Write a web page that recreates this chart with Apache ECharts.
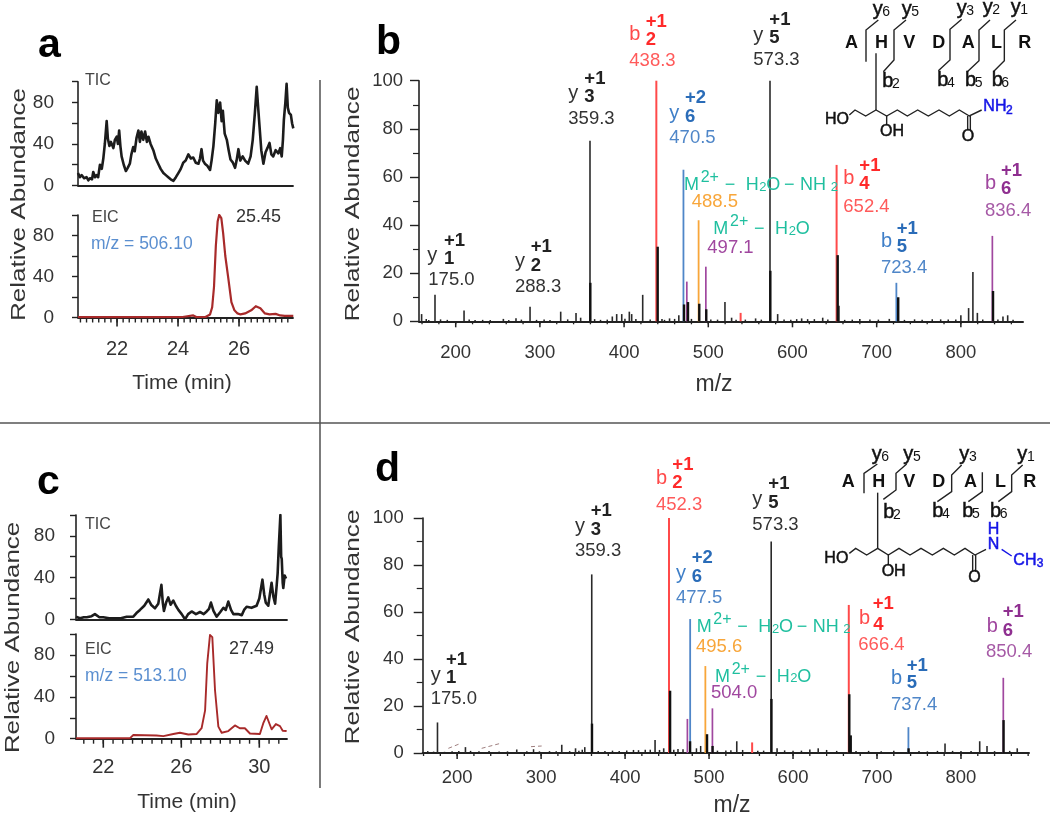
<!DOCTYPE html>
<html><head><meta charset="utf-8">
<script src="https://cdn.jsdelivr.net/npm/echarts@6/dist/echarts.min.js"></script>
<style>html,body{margin:0;padding:0;background:#fff}#c{width:1050px;height:816px}</style></head>
<body><div id="c"></div>
<script>
// ---------- DATA ----------
const aTic=[[20.72,12],[20.78,8],[20.84,10],[20.92,7],[21,8],[21.06,5],[21.11,7],[21.18,6],[21.22,13],[21.28,8],[21.33,10],[21.38,8],[21.44,20],[21.5,16],[21.55,26],[21.6,40],[21.66,62],[21.7,45],[21.75,38],[21.8,42],[21.88,36],[21.93,44],[21.99,47],[22.03,40],[22.07,53],[22.11,38],[22.15,28],[22.22,20],[22.29,14],[22.35,17],[22.42,21],[22.47,30],[22.53,37],[22.58,33],[22.64,46],[22.7,53],[22.75,42],[22.8,52],[22.86,44],[22.92,52],[22.98,42],[23.03,47],[23.1,40],[23.19,34],[23.27,26],[23.35,21],[23.43,16],[23.52,12],[23.6,10],[23.68,8],[23.76,6],[23.85,4.5],[23.93,8],[24.01,12],[24.09,16],[24.17,22],[24.25,24],[24.34,30],[24.42,26],[24.5,27],[24.58,22],[24.67,21],[24.72,26],[24.77,35],[24.82,24],[24.88,21],[24.96,19],[25.05,15],[25.1,24],[25.16,38],[25.22,60],[25.27,82],[25.32,70],[25.38,80],[25.43,62],[25.47,72],[25.53,50],[25.6,44],[25.66,34],[25.72,25],[25.8,22],[25.87,17],[25.92,24],[25.98,35],[26.04,24],[26.12,28],[26.2,24],[26.3,21],[26.38,28],[26.45,44],[26.52,70],[26.58,95],[26.63,74],[26.67,58],[26.73,34],[26.8,21],[26.87,32],[26.93,36],[27,41],[27.06,30],[27.12,28],[27.2,34],[27.29,31],[27.35,36],[27.4,28],[27.44,44],[27.47,63],[27.52,80],[27.56,98],[27.6,75],[27.64,70],[27.7,68],[27.74,60],[27.78,55]];
const aEic=[[20.72,0.3],[22,0.3],[23,0.3],[24.15,0.5],[24.2,2],[24.5,2],[24.6,0.5],[24.9,0.5],[25.05,3],[25.12,10],[25.18,30],[25.24,70],[25.3,94],[25.35,100],[25.42,97],[25.48,82],[25.55,60],[25.65,38],[25.75,15],[25.85,7],[25.95,4],[26.05,3],[26.2,4],[26.4,7],[26.55,11],[26.7,9],[26.85,4],[27,3],[27.2,3.5],[27.35,2],[27.5,1.5],[27.78,1.5]];
const cTic=[[20.6,2.5],[20.8,1],[21,2],[21.15,2],[21.4,3],[21.57,5],[21.8,2],[22,2],[22.3,1],[22.51,1],[22.9,1],[23.2,2.5],[23.54,2.5],[23.7,6],[23.88,9],[24.1,13],[24.31,19],[24.45,14],[24.65,10.5],[24.75,12],[24.82,15],[24.9,24],[24.98,33],[25.05,16],[25.11,8],[25.22,16],[25.33,21],[25.45,14],[25.59,18],[25.72,13],[25.85,9],[26.02,5],[26.19,0],[26.35,5],[26.53,7.5],[26.75,5],[26.96,7],[27.15,5],[27.3,7.5],[27.42,10],[27.52,16],[27.65,8],[27.81,2.5],[28,7],[28.16,11],[28.28,9],[28.41,17],[28.55,9],[28.67,5],[28.9,5],[29.1,4],[29.22,9],[29.35,12],[29.6,11],[29.86,13],[30,20],[30.16,38],[30.25,24],[30.33,16],[30.46,13],[30.55,25],[30.63,35],[30.72,22],[30.81,15],[30.88,30],[30.94,44],[31,70],[31.08,100],[31.12,60],[31.15,58],[31.2,35],[31.23,30],[31.3,42],[31.37,39]];
const cEic=[[20.6,0.5],[22,0.5],[23.37,0.5],[23.54,3.5],[24.73,3],[25.08,2.5],[25.59,4.5],[25.93,5.7],[26.36,4],[26.79,4.5],[27.04,10],[27.22,27],[27.33,72],[27.47,99],[27.59,97],[27.73,46],[27.9,11.5],[28.07,5.7],[28.41,7.3],[28.75,12.7],[29,10],[29.26,10],[29.52,5],[30.03,4.5],[30.2,14.6],[30.37,21.7],[30.63,9],[30.85,14],[31.06,12],[31.2,7.6],[31.4,7.3]];

const bThin=[[159.5,3],[175.4,11],[209.9,4.5],[256.6,1],[271.6,1.3],[288.3,6],[324.7,4],[342.9,3.5],[348.4,1.5],[359.5,75],[386,2],[391.2,3],[397.2,3],[406.2,4],[409,3],[422.1,11],[445,1],[454,1.2],[465,2.5],[519.8,8],[527.7,1.5],[556.2,1.2],[573.3,100],[582.4,3],[610.9,1.2],[635.9,1.5],[655.2,6.5],[680,1],[715,1],[800,2.5],[809.2,5.5],[814.3,20.5],[819.6,3.5],[850,2],[855.6,2.5]];
const bThick=[[359.9,16],[439.9,31],[471.2,7],[475.9,8],[489.3,7.3],[497.6,5],[573.7,21],[653.7,27.5],[725.6,10],[838.2,12.6]];
const bRed=[[438.3,100],[538.4,3.5],[652.4,65]];
const bBlue=[[470.5,63],[723.4,16]];
const bOrange=[[488.5,42]];
const bPurple=[[474.5,16.5],[497.1,22.7],[837.4,35.5]];
const bNoise=[[165,1],[168,.5],[182,.8],[190,.6],[216,.7],[223,.5],[232,.6],[241,.5],[263,.5],[278,.7],[296,.6],[305,.8],[312,.5],[333,.8],[365,.9],[372,.6],[380,.7],[401,1.1],[414,1],[431,.8],[448,.6],[460,1],[480,1],[503,.8],[511,.7],[533,.6],[544,.7],[563,.7],[590,.8],[598,.6],[605,.9],[618,.9],[626,.9],[642,.7],[662,.6],[671,.7],[692,.8],[702,.7],[733,.6],[745,.8],[754,.6],[766,.9],[776,.8],[785,.7],[794,.8],[826,.7],[844,.7],[862,.6]];

const dThin=[[176.6,13],[209.9,2.5],[271,1.5],[324.6,3.5],[341,2],[352,2.5],[360.3,76],[435.7,5.5],[446,2],[533,5],[574,90],[581,2],[781,4],[822.3,5],[831,3],[867,2],[630,2],[620,1.5]];
const dThick=[[360.6,12.5],[453.6,26.5],[477.4,5],[497.6,8],[504.2,3],[574.3,23],[667,25],[668.7,7.5],[737.6,2],[850.7,14]];
const dRed=[[452.3,100],[551.3,4.5],[666.4,63]];
const dBlue=[[477.5,57],[737.4,11]];
const dOrange=[[495.6,37]];
const dPurple=[[474.2,14.5],[504,19],[850.4,32]];
const dNoise=[[165,.8],[172,.6],[185,.5],[194,.7],[202,.8],[216,.9],[226,.7],[238,.8],[250,.6],[260,.7],[283,.7],[291,1.6],[298,.7],[310,.8],[318,.7],[334,.8],[345,1],[349,1.4],[368,.9],[376,.8],[385,1],[393,.9],[402,1.1],[410,1.3],[416,1.2],[424,1.4],[430,1.4],[441,1.3],[458,1.4],[463,1.7],[469,1.6],[485,2],[490,3],[510,1],[520,1.1],[526,1.2],[540,1.3],[558,1],[565,1],[590,1.1],[600,1],[610,1],[640,1.3],[652,.9],[675,.8],[690,.9],[705,.7],[720,1],[750,.8],[760,.7],[772,.9],[790,.9],[800,.8],[812,.8],[840,.8],[858,.9]];

const aTimeTicks=[22,24,26], cTimeTicks=[22,26,30], mzTicks=[200,300,400,500,600,700,800];
const ticY=[0,40,80], spectrumY=[0,20,40,60,80,100];

// ---------- LAYOUT ----------
const FF='"Liberation Sans",Arial,sans-serif';
const ink='#222';
const grids=[
 {left:78,top:81.7,width:215,height:103.8},
 {left:78,top:215,width:215,height:102.5},
 {left:76,top:515,width:211,height:104.3},
 {left:76,top:634,width:211,height:104.7},
 {left:419,top:80.7,width:604,height:240.6},
 {left:422.7,top:518,width:606.3,height:235}
];
const xr=[[20.72,27.77],[20.72,27.77],[20.6,31.42],[20.6,31.42],[156.4,873.8],[159,881]];
function steps(a,b,s){const o=[];for(let v=Math.ceil(a/s-1e-9)*s;v<=b+1e-9;v+=s)o.push([+v.toFixed(4)]);return o;}
const xAxis=[],yAxis=[];
function addX(g,labels,margin,fs,w){
 xAxis.push({type:'value',gridIndex:g,min:xr[g][0],max:xr[g][1],splitLine:{show:false},
  axisLine:{show:true,onZero:false,lineStyle:{color:ink,width:w||1.8}},
  axisTick:{show:false},
  axisLabel:labels?{show:true,customValues:labels,margin:margin,fontSize:fs,fontFamily:FF,color:'#333',formatter:v=>String(v)}:{show:false}});
 return xAxis.length-1;
}
function addY(g,labels,margin,fs,minor){
 yAxis.push({type:'value',gridIndex:g,min:0,max:100,interval:20,splitLine:{show:false},
  axisLine:{show:true,onZero:false,lineStyle:{color:ink,width:1.6}},
  axisTick:{show:true,length:minor?9:6,lineStyle:{color:ink,width:1.4}},
  minorTick:minor?{show:true,splitNumber:2,length:6,lineStyle:{color:ink,width:1.2}}:{show:false},
  axisLabel:{show:true,customValues:labels,margin:margin,fontSize:fs,fontFamily:FF,color:'#333'}});
 return yAxis.length-1;
}
const series=[];
function line(x,y,data,color,w){series.push({type:'line',xAxisIndex:x,yAxisIndex:y,data:data,showSymbol:false,symbol:'none',silent:true,animation:false,lineStyle:{color:color,width:w,join:'round'},z:3});}
function stick(x,y,data,color,w,z){series.push({type:'custom',xAxisIndex:x,yAxisIndex:y,data:data,silent:true,animation:false,z:z,encode:{x:0,y:1},
 renderItem:(p,api)=>{const a=api.coord([api.value(0),0]),b=api.coord([api.value(0),api.value(1)]);
  return {type:'line',shape:{x1:a[0],y1:a[1],x2:b[0],y2:b[1]},style:{stroke:color,lineWidth:w}};}});}
function xticks(x,y,vals,len,w){series.push({type:'custom',xAxisIndex:x,yAxisIndex:y,data:vals,silent:true,animation:false,clip:false,z:2,encode:{x:0},
 renderItem:(p,api)=>{const a=api.coord([api.value(0),0]);
  return {type:'line',shape:{x1:a[0],y1:a[1],x2:a[0],y2:a[1]+len},style:{stroke:ink,lineWidth:w}};}});}

let x0=addX(0,null);let y0=addY(0,ticY,24,19,false);line(x0,y0,aTic,'#1c1c1c',2.6);
let x1=addX(1,aTimeTicks,22,20);let y1=addY(1,ticY,24,19,false);line(x1,y1,aEic,'#a82a2a',2.2);
xticks(x1,y1,steps(xr[1][0],xr[1][1],0.2),5,1.4);xticks(x1,y1,aTimeTicks.map(v=>[v]),9,1.6);
let x2=addX(2,null);let y2=addY(2,ticY,21,19,false);line(x2,y2,cTic,'#1c1c1c',2.6);
let x3=addX(3,cTimeTicks,19,20);let y3=addY(3,ticY,21,19,false);line(x3,y3,cEic,'#a82a2a',1.9);
xticks(x3,y3,steps(xr[3][0],xr[3][1],0.5),5,1.4);xticks(x3,y3,cTimeTicks.map(v=>[v]),9,1.6);

const RED='#ff4a4a',BLUE='#4f86c8',ORG='#f8a63a',PUR='#a0479f';
let x4=addX(4,mzTicks,22,18.5,2);let y4=addY(4,spectrumY,16,18.5,true);
xticks(x4,y4,steps(xr[4][0],xr[4][1],20),3,1.3);xticks(x4,y4,mzTicks.map(v=>[v]),6,1.5);
stick(x4,y4,bRed,RED,2,4);stick(x4,y4,bBlue,BLUE,1.8,4);stick(x4,y4,bOrange,ORG,1.8,4);stick(x4,y4,bPurple,PUR,1.7,4);
stick(x4,y4,bThin,'#2a2a2a',1.6,5);stick(x4,y4,bThick,'#111',2.4,6);stick(x4,y4,bNoise,'#222',1.5,5);
let x5=addX(5,mzTicks,15,18.5,2);let y5=addY(5,spectrumY,19,18.5,true);
xticks(x5,y5,steps(xr[5][0],xr[5][1],20),3,1.3);xticks(x5,y5,mzTicks.map(v=>[v]),6,1.5);
stick(x5,y5,dRed,RED,2,4);stick(x5,y5,dBlue,BLUE,1.8,4);stick(x5,y5,dOrange,ORG,1.8,4);stick(x5,y5,dPurple,PUR,1.7,4);
stick(x5,y5,dThin,'#2a2a2a',1.6,5);stick(x5,y5,dThick,'#111',2.4,6);stick(x5,y5,dNoise,'#222',1.5,5);

// ---------- ANNOTATIONS ----------
const G=[];
function T(x,y,text,size,color,o){o=o||{};G.push({type:'text',x:x,y:y,silent:true,z:20,rotation:o.rot||0,scaleX:o.sx||1,scaleY:o.sy||1,
 style:Object.assign({text:text,fill:color||'#333',font:(o.bold?'bold ':'')+size+'px '+FF,textAlign:o.align||'left',textVerticalAlign:'middle'},o.med?{stroke:color||'#333',lineWidth:0.5}:{})});}
function P(pts,color,w,o){G.push({type:'polyline',silent:true,z:19,shape:{points:pts},style:{stroke:color||'#222',lineWidth:w||1.2,fill:null,lineDash:(o&&o.dash)||null}});}

G.push({type:'line',silent:true,z:1,shape:{x1:320,y1:80,x2:320,y2:788},style:{stroke:'#444',lineWidth:1.4}});
G.push({type:'line',silent:true,z:1,shape:{x1:0,y1:423,x2:1050,y2:423},style:{stroke:'#555',lineWidth:1.4}});

T(38,46,'a',41,'#000',{bold:true});T(376,43,'b',41,'#000',{bold:true});T(37,483,'c',41,'#000',{bold:true});T(375,470,'d',41,'#000',{bold:true});

const VT=Math.PI/2;
T(19,204.5,'Relative Abundance',21,'#333',{rot:VT,align:'center',sx:1.24});
T(13,637.5,'Relative Abundance',21,'#333',{rot:VT,align:'center',sx:1.23});
T(353,204,'Relative Abundance',21,'#333',{rot:VT,align:'center',sx:1.25});
T(353,627,'Relative Abundance',21,'#333',{rot:VT,align:'center',sx:1.25});
T(182,383,'Time (min)',21,'#333',{align:'center'});T(187,802,'Time (min)',21,'#333',{align:'center'});
T(714,385,'m/z',23,'#333',{align:'center'});T(732,806,'m/z',23,'#333',{align:'center'});

const MZC='#5b8fd0';
T(85,81,'TIC',16,'#444');T(92,218,'EIC',16,'#444');T(91,244,'m/z = 506.10',17.5,MZC);T(236,217,'25.45',18,'#333');
T(85,525,'TIC',16,'#444');T(85,650,'EIC',16,'#444');T(85,676,'m/z = 513.10',17.5,MZC);T(229,649,'27.49',18,'#333');

const zb=(zx,zy)=>[340+zx/3,zy/3], zB=(zx,zy)=>[690+zx/3,zy/3], zd=(zx,zy)=>[340+zx/3,440+zy/3], zD=(zx,zy)=>[690+zx/3,440+zy/3];
function ion(f,letter,lp,charge,cp,num,np,val,vp,c1,c2,c3){
 let a=f(...lp);T(a[0],a[1],letter,20,c1);
 a=f(...cp);T(a[0],a[1],charge,18.5,c2,{bold:true});
 a=f(...np);T(a[0],a[1],num,18.5,c2,{bold:true});
 a=f(...vp);T(a[0],a[1],val,18.5,c3);
}
const BK=['#333','#222','#333'],RD=['#ff4a4a','#ff2a2a','#ff5a5a'],BL=['#3f7fc8','#2a6cb8','#4f86c8'],PU=['#a0479f','#8f2f90','#a65aa6'];
const io=(f,l,lp,ch,cp,n,np,v,vp,c)=>ion(f,l,lp,ch,cp,n,np,v,vp,c[0],c[1],c[2]);
io(zb,'y',[262,765],'+1',[312,722],'1',[312,778],'175.0',[265,840],BK);
io(zb,'y',[525,785],'+1',[572,740],'2',[572,797],'288.3',[525,860],BK);
io(zb,'y',[685,280],'+1',[733,237],'3',[733,292],'359.3',[685,357],BK);
io(zb,'b',[868,103],'+1',[917,65],'2',[917,120],'438.3',[868,183],RD);
io(zb,'y',[988,340],'+2',[1035,295],'6',[1035,350],'470.5',[988,415],BL);
io(zB,'y',[190,105],'+1',[238,60],'5',[238,115],'573.3',[190,180],BK);
io(zB,'b',[460,535],'+1',[508,497],'4',[508,553],'652.4',[460,620],RD);
io(zB,'b',[573,725],'+1',[620,687],'5',[620,742],'723.4',[573,805],BL);
io(zB,'b',[885,550],'+1',[933,513],'6',[933,568],'836.4',[885,632],PU);
io(zd,'y',[272,705],'+1',[318,660],'1',[318,715],'175.0',[272,778],BK);
io(zd,'y',[705,258],'+1',[752,214],'3',[752,270],'359.3',[705,333],BK);
io(zd,'b',[948,115],'+1',[997,75],'2',[997,130],'452.3',[948,195],RD);
io(zd,'y',[1008,400],'+2',[1055,355],'6',[1055,410],'477.5',[1008,475],BL);
io(zD,'y',[187,178],'+1',[235,133],'5',[235,190],'573.3',[187,255],BK);
io(zD,'b',[507,535],'+1',[548,492],'4',[550,555],'666.4',[505,615],RD);
io(zD,'b',[603,715],'+1',[650,677],'5',[650,730],'737.4',[603,795],BL);
io(zD,'b',[890,558],'+1',[938,517],'6',[938,572],'850.4',[888,637],PU);

const TEAL='#1fbf9f';
function loss(f,zx,zy,withNH){
 const put=(dx,dy,s,fs)=>{const a=f(zx+dx,zy+dy);T(a[0],a[1],s,fs,TEAL);};
 put(0,0,'M',18);put(50,-22,'2+',16);put(122,0,'−',18);put(185,0,'H',18);put(226,6,'2',13);put(247,0,'O',18);
 if(withNH){put(300,0,'−',18);put(348,0,'NH',18);put(440,6,'2',13);}
}
loss(zb,1032,555,true);
{const a=zB(5,605);T(a[0],a[1],'488.5',18.5,'#f8a63a');}
loss(zB,70,688,false);
{const a=zB(52,745);T(a[0],a[1],'497.1',18.5,'#a0479f');}
loss(zD,20,562,true);
{const a=zD(18,622);T(a[0],a[1],'495.6',18.5,'#f8a63a');}
loss(zD,75,710,false);
{const a=zD(63,760);T(a[0],a[1],'504.0',18.5,'#a0479f');}

function pl(f,arr,c,w){P(arr.map(p=>f(p[0],p[1])),c||'#222',w||1.4);}
function lab(f,zx,zy,s,fs,o,c){const a=f(zx,zy);T(a[0],a[1],s,fs,c||'#111',o);}
const B={bold:true},M={med:true};
function frag(f,name,sub,zx,zy){lab(f,zx,zy,name,20,M);lab(f,zx+29,zy+8,sub,14,{});}
[['A',465],['H',555],['V',640],['D',727],['A',815],['L',903],['R',985]].forEach(a=>lab(zB,a[1],130,a[0],18,B));
[['y','6',548,28],['y','5',635,28],['y','3',800,25],['y','2',878,22],['y','1',962,22]].forEach(a=>frag(zB,a[0],a[1],a[2],a[3]));
[['b','2',577,245],['b','4',742,240],['b','5',825,240],['b','6',905,240]].forEach(a=>frag(zB,a[0],a[1],a[2],a[3]));
pl(zB,[[565,60],[528,90],[528,185]]);pl(zB,[[648,60],[612,90],[612,180],[580,215]]);pl(zB,[[815,58],[780,88],[780,180],[745,212]]);pl(zB,[[900,60],[867,90],[867,182],[832,215]]);pl(zB,[[978,60],[943,90],[943,182],[910,215]]);
pl(zB,[[558,160],[558,330]]);
pl(zB,[[478,345],[495,330],[527,348],[558,330],[590,348],[622,330],[652,348],[683,330],[715,348],[747,330],[778,348],[808,330],[838,348],[875,330]]);
pl(zB,[[590,348],[590,375]]);pl(zB,[[833,348],[833,390]]);pl(zB,[[841,348],[841,390]]);
lab(zB,405,358,'HO',16,M);lab(zB,570,395,'OH',16,M);lab(zB,815,410,'O',16,M);
lab(zB,880,320,'NH',16,M,'#1414e6');lab(zB,948,332,'2',12,M,'#1414e6');
[['A',455],['H',547],['V',640],['D',727],['A',822],['L',915],['R',1000]].forEach(a=>lab(zD,a[1],127,a[0],18,B));
[['y','6',545,43],['y','5',640,43],['y','3',808,43],['y','1',982,43]].forEach(a=>frag(zD,a[0],a[1],a[2],a[3]));
[['b','2',580,218],['b','4',727,213],['b','5',817,213],['b','6',900,213]].forEach(a=>frag(zD,a[0],a[1],a[2],a[3]));
pl(zD,[[562,72],[522,100],[522,160]]);pl(zD,[[650,72],[618,100],[618,150],[580,178]]);pl(zD,[[815,75],[785,105],[785,155],[742,185]]);pl(zD,[[877,97],[877,155],[835,185]]);pl(zD,[[998,75],[965,105],[965,155],[925,185]]);
pl(zD,[[563,158],[563,325]]);
pl(zD,[[478,340],[497,325],[530,345],[563,325],[595,345],[627,325],[660,345],[693,325],[727,345],[760,325],[793,345],[825,325],[855,345],[888,328]]);
pl(zD,[[595,345],[595,375]]);pl(zD,[[848,345],[848,395]]);pl(zD,[[857,345],[857,395]]);
lab(zD,403,355,'HO',16,M);lab(zD,575,395,'OH',16,M);lab(zD,835,413,'O',16,M);
lab(zD,893,268,'H',16,M,'#1414e6');lab(zD,893,315,'N',16,M,'#1414e6');
pl(zD,[[935,328],[965,348]],'#1414e6');lab(zD,970,362,'CH',16,M,'#1414e6');lab(zD,1040,370,'3',12,M,'#1414e6');
[[[325,925],[360,911]],[[425,925],[478,911]],[[573,920],[605,918]]].forEach(s=>P(s.map(p=>zd(p[0],p[1])),'#a08080',1,{dash:[4,3]}));

const chart=echarts.init(document.getElementById('c'),null,{renderer:'canvas'});
chart.setOption({animation:false,backgroundColor:'#fff',grid:grids,xAxis:xAxis,yAxis:yAxis,series:series,graphic:{elements:G}});
</script></body></html>
